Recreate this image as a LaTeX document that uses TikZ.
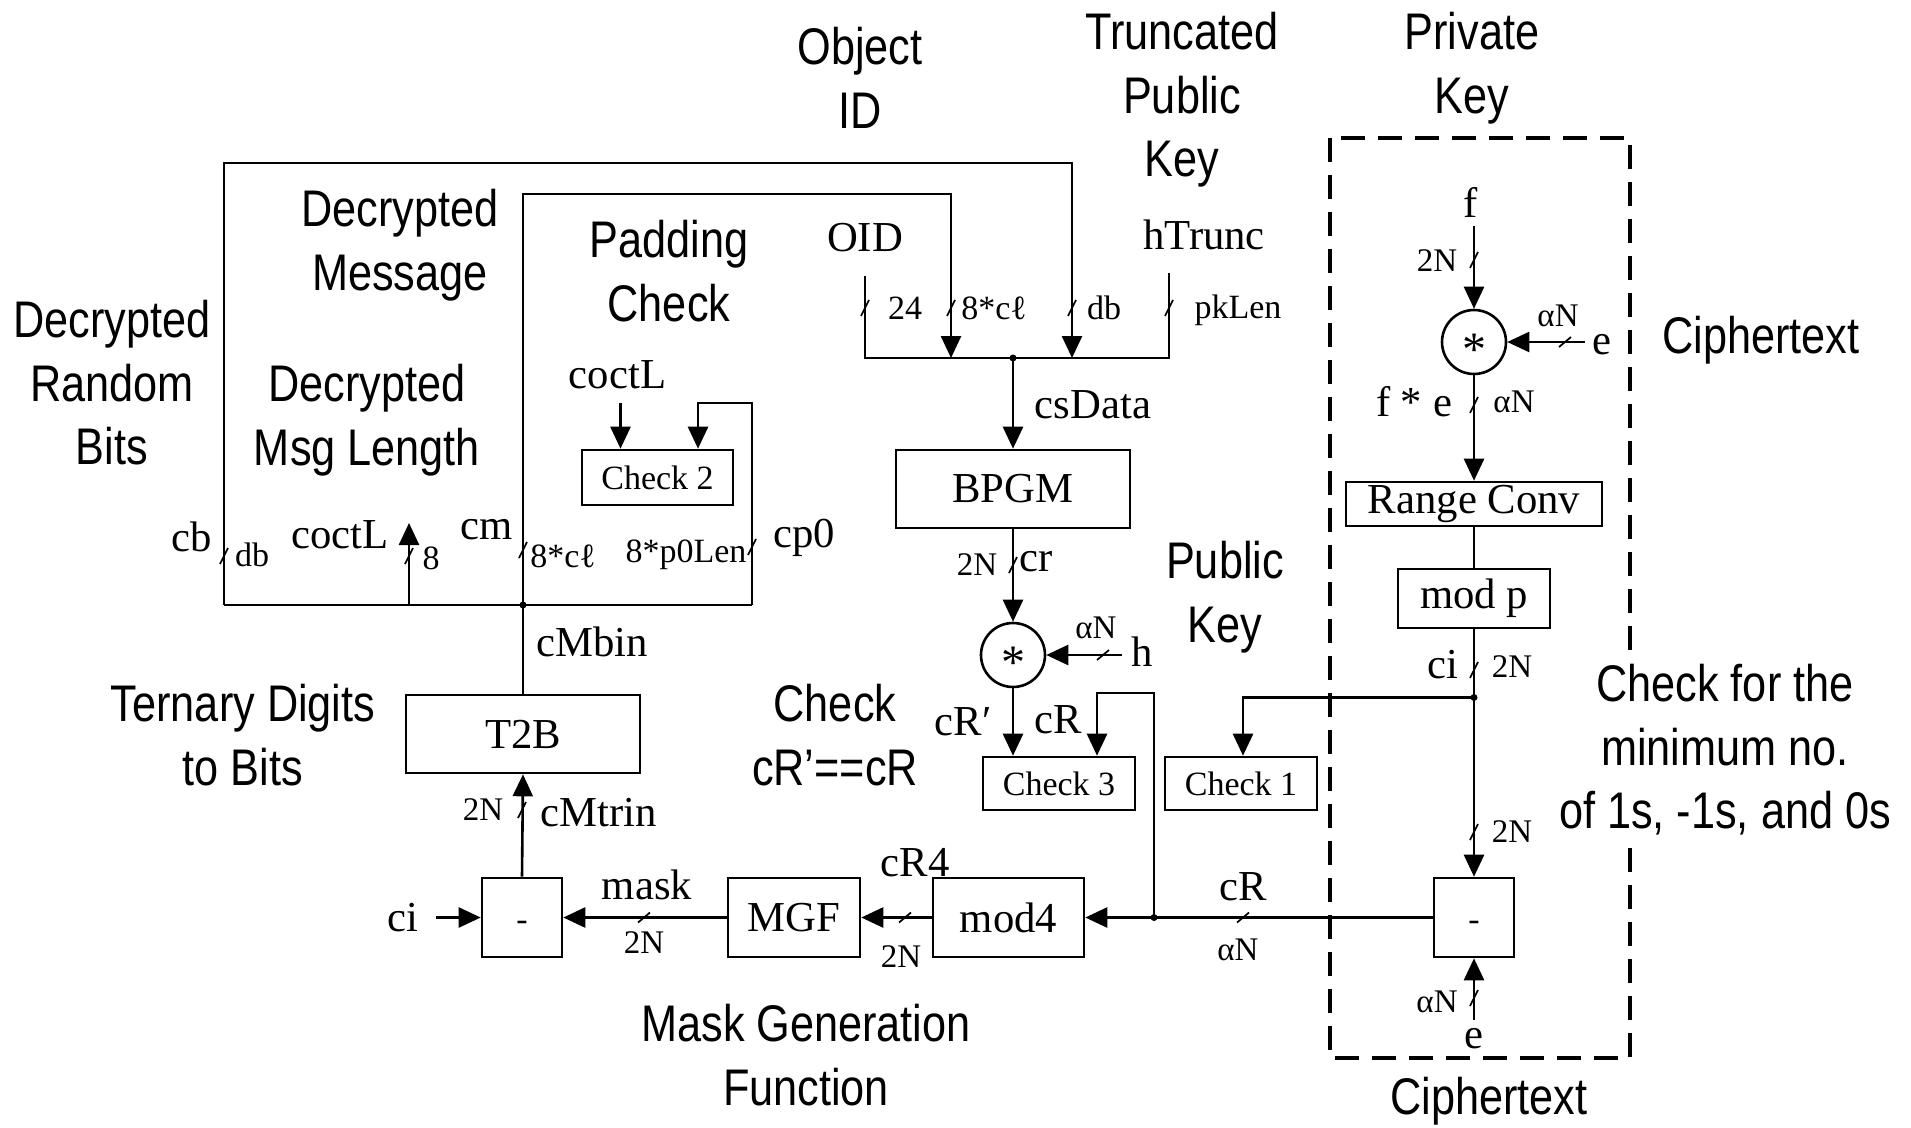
\documentclass[tikz,border=0pt]{standalone}
\usepackage{fontspec}
\setmainfont{Liberation Serif}
\newfontfamily\labfont[FakeStretch=0.84]{Liberation Sans}
\usetikzlibrary{arrows.meta}

\tikzset{
  wire/.style={line width=2.6pt},
  arr/.style={line width=2.6pt,-{Triangle[width=20pt,length=22pt]}},
  blk/.style={draw,line width=2.6pt,inner sep=0pt,font=\fontsize{42.7}{44}\selectfont},
  chk/.style={blk,font=\fontsize{34}{36}\selectfont},
  subbox/.style={blk,minimum width=80pt,minimum height=79pt,font=\fontsize{34}{36}\selectfont,text height=26.6pt,text depth=0pt},
  mul/.style={draw,circle,line width=2.6pt,minimum size=64pt,inner sep=0pt,font=\fontsize{48}{48}\selectfont,text height=46pt,text depth=0pt},
  lbl/.style={inner sep=0pt,font=\fontsize{42.7}{44}\selectfont},
  sm/.style={inner sep=0pt,font=\fontsize{34}{36}\selectfont},
  wd/.style={inner sep=0pt,font=\fontsize{33}{34}\selectfont},
  cpt/.style={inner sep=0pt,align=center,font=\labfont\fontsize{51.5}{63.5}\selectfont},
  tickln/.style={line width=1.7pt},
  dashbox/.style={line width=4pt,dash pattern=on 24pt off 13pt},
}
% bus-width slashes on vertical and horizontal wires
\newcommand\tickV[1]{\draw[tickln] (#1) ++(-4,8) -- ++(8,-16);}
\newcommand\tickH[1]{\draw[tickln] (#1) ++(-6,5) -- ++(12,-10);}

\begin{document}
\begin{tikzpicture}[x=1pt,y=-1pt]
\useasboundingbox (0,0) rectangle (1911,1127);

% ---------- captions ----------
\node[cpt] (tObj)   at (860,78)   {Object\\ID};
\node[cpt] (tTrunc) at (1182,100) {Truncated\\Public\\Key};
\node[cpt] (tPriv)  at (1472,68)  {Private\\Key};
\node[cpt] (tDecM)  at (400,245)  {Decrypted\\Message};
\node[cpt] (tPad)   at (669,271)  {Padding\\Check};
\node[cpt] (tRand)  at (112,383)  {Decrypted\\Random\\Bits};
\node[cpt] (tLen)   at (367,420)  {Decrypted\\Msg Length};
\node[cpt] (tCipA)  at (1761,340) {Ciphertext};
\node[cpt] (tPub)   at (1225,597) {Public\\Key};
\node[cpt] (tTern)  at (243,735)  {Ternary Digits\\to Bits};
\node[cpt] (tCmp)   at (835,735)  {Check\\cR’==cR};
\node[cpt] (tMgf)   at (806,1055) {Mask Generation\\Function};
\node[cpt] (tCipB)  at (1489,1101){Ciphertext};

% ---------- decryption key block ----------
\draw[dashbox] (1330,138) rectangle (1630,1058);
\node[cpt,fill=white,inner sep=8pt] (tMin) at (1725,750)
  {Check for the\\minimum no.\\of 1s, -1s, and 0s};

% ---------- blocks ----------
\node[blk,minimum width=234pt,minimum height=78pt] (bpgm) at (1013,489) {BPGM};
\node[mul] (mulA) at (1013,655) {*};
\node[chk,minimum width=152pt,minimum height=53pt] (check3) at (1059,783.5) {Check 3};
\node[chk,minimum width=152pt,minimum height=53pt] (check1) at (1241,783.5) {Check 1};
\node[chk,minimum width=151pt,minimum height=55pt] (check2) at (657.5,477.5) {Check 2};
\node[blk,minimum width=234pt,minimum height=78pt] (t2b) at (523,734) {T2B};
\node[subbox] (subL) at (522,917.5) {-};
\node[blk,minimum width=132pt,minimum height=79pt] (mgf) at (794,917.5) {MGF};
\node[blk,minimum width=151pt,minimum height=79pt] (mod4) at (1008.5,917.5) {mod4};
\node[subbox] (subR) at (1474,917.5) {-};
\node[mul] (mulB) at (1474,342) {*};
\node[blk,minimum width=256pt,minimum height=44pt] (rconv) at (1474,504) {Range Conv};
\node[blk,minimum width=152pt,minimum height=59pt] (modp) at (1474,598.5) {mod p};

% ---------- wire end points and junctions ----------
\coordinate (oidTop) at (865,276);
\coordinate (busL)   at (865,358);
\coordinate (busR)   at (1169,358);
\coordinate (pkTop)  at (1169,273);
\coordinate (jBus)   at (1013,358);
\coordinate (bl)     at (224,605);
\coordinate (otl)    at (224,163);
\coordinate (dbIn)   at (1072,358);
\coordinate (jM)     at (523,605);
\coordinate (itl)    at (523,194);
\coordinate (clIn)   at (951,358);
\coordinate (br)     at (752,605);
\coordinate (plTop)  at (752,403);
\coordinate (ctop)   at (620.5,403);
\coordinate (cbase)  at (409,605);
\coordinate (ctip)   at (409,523);
\coordinate (hEnd)   at (1122,655);
\coordinate (jCR)    at (1154,917.5);
\coordinate (crTop)  at (1154,693);
\coordinate (ciL)    at (436,917.5);
\coordinate (fTop)   at (1474,226);
\coordinate (eEnd)   at (1585,342);
\coordinate (jCi)    at (1474,697.5);
\coordinate (eBot)   at (1474,1020);

% ---------- connectors ----------
\draw[wire] (oidTop) -- (busL) -- (busR) -- (pkTop);
\draw[arr] (bl) -- (otl) -| (dbIn);
\draw[arr] (jM) -- (itl) -| (clIn);
\draw[wire] (bl) -- (br);
\draw[arr] (br) -- (plTop) -| ([xshift=40.5pt]check2.north);
\draw[arr] (ctop) -- (ctop |- check2.north);
\draw[arr] (cbase) -- (ctip);
\draw[wire] (t2b.north) -- (jM);
\draw[arr] (jBus) -- (bpgm.north);
\draw[arr] (bpgm.south) -- (mulA.north);
\draw[arr] (hEnd) -- (mulA.east);
\draw[arr] (mulA.south) -- (mulA.south |- check3.north);
\draw[arr] (jCR) -- (crTop) -| ([xshift=38pt]check3.north);
\draw[arr] (subR.west) -- (mod4.east);
\draw[arr] (mod4.west) -- (mgf.east);
\draw[arr] (mgf.west) -- (subL.east);
\draw[arr] (ciL) -- (subL.west);
\draw[arr] (subL.north) -- (t2b.south);
\draw[arr] (fTop) -- (mulB.north);
\draw[arr] (eEnd) -- (mulB.east);
\draw[arr] (mulB.south) -- (rconv.north);
\draw[wire] (rconv.south) -- (modp.north);
\draw[arr] (modp.south) -- (subR.north);
\draw[arr] (jCi) -| ([xshift=2pt]check1.north);
\draw[arr] (eBot) -- (subR.south);

\foreach \j in {jBus,jM,jCR,jCi} \fill (\j) circle (3.5pt);

% ---------- bus-width slashes ----------
\tickV{224,556} \tickV{409,556} \tickV{523,550} \tickV{752,547}
\tickV{865,308} \tickV{951,308} \tickV{1072,308} \tickV{1169,308}
\tickV{1013,565} \tickV{522,810}
\tickV{1474,260} \tickV{1474,405} \tickV{1474,670} \tickV{1474,832} \tickV{1474,998}
\tickH{1103,655} \tickH{644,917.5} \tickH{905,917.5} \tickH{1243,917.5} \tickH{1565,342}

% ---------- signal labels ----------
\node[lbl] (lOID)   at (865,238)  {OID};
\node[lbl] (lHT)    at (1204,235) {hTrunc};
\node[sm]  (l24)    at (905,308)  {24};
\node[sm]  (lcl)    at (994,308)  {8*cℓ};
\node[sm]  (ldb)    at (1104,308) {db};
\node[sm]  (lpk)    at (1238,310) {pkLen};
\node[lbl] (lcs)    at (1093,405) {csData};
\node[wd]  (l2Na)   at (977,565)  {2N};
\node[lbl] (lcr)    at (1036,562) {cr};
\node[wd]  (laNh)   at (1096,628) {αN};
\node[lbl] (lh)     at (1142,652) {h};
\node[lbl] (lcRp)   at (963,722)  {cR′};
\node[lbl] (lcRa)   at (1058,720) {cR};
\node[lbl] (lcoA)   at (617.5,375){coctL};
\node[lbl] (lcb)    at (192,537)  {cb};
\node[sm]  (ldb2)   at (252,555)  {db};
\node[lbl] (lcoB)   at (340,535)  {coctL};
\node[sm]  (l8)     at (431,558)  {8};
\node[lbl] (lcm)    at (487,530)  {cm};
\node[sm]  (lcl2)   at (563,556)  {8*cℓ};
\node[sm]  (lp0)    at (686,555)  {8*p0Len};
\node[lbl] (lcp0)   at (804,538)  {cp0};
\node[lbl] (lcMb)   at (592,642)  {cMbin};
\node[wd]  (l2Nb)   at (483,810)  {2N};
\node[lbl] (lcMt)   at (599,813)  {cMtrin};
\node[lbl] (lciL)   at (403,918)  {ci};
\node[lbl] (lmask)  at (647,885)  {mask};
\node[wd]  (l2Nc)   at (644,943)  {2N};
\node[lbl] (lcR4)   at (915,863)  {cR4};
\node[wd]  (l2Nd)   at (901,957)  {2N};
\node[lbl] (lcRb)   at (1243,887) {cR};
\node[wd]  (laNb)   at (1238,950) {αN};
\node[lbl] (lf)     at (1471,202) {f};
\node[wd]  (l2Ne)   at (1437,261) {2N};
\node[lbl] (le)     at (1602,345) {e};
\node[wd]  (laNe)   at (1558,316) {αN};
\node[lbl] (lfe)    at (1414,402) {f * e};
\node[wd]  (laNfe)  at (1514,402) {αN};
\node[lbl] (lciR)   at (1443,665) {ci};
\node[wd]  (l2Nf)   at (1512,667) {2N};
\node[wd]  (l2Ng)   at (1512,832) {2N};
\node[wd]  (laNg)   at (1437,1002){αN};
\node[lbl] (le2)    at (1474,1039){e};
\end{tikzpicture}
\end{document}
